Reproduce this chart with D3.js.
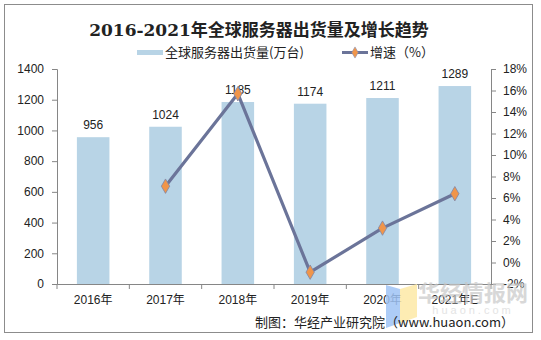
<!DOCTYPE html>
<html><head><meta charset="utf-8">
<script src="https://cdn.jsdelivr.net/npm/d3@7"></script>
<style>
body{margin:0;background:#fff;}
svg{display:block;}
text{font-family:"Liberation Sans",Arial,"Noto Sans CJK SC",sans-serif;}
</style></head>
<body>
<script>
const categories = ["2016年","2017年","2018年","2019年","2020年","2021年E"];
const shipments = [956,1024,1185,1174,1211,1289];
const growth = [null,7.1,15.7,-0.9,3.2,6.4];
const leftTicks = [0,200,400,600,800,1000,1200,1400];
const rightTicks = [-2,0,2,4,6,8,10,12,14,16,18];

const W=541,H=340;
const svg=d3.select("body").append("svg").attr("width",W).attr("height",H);
svg.append("rect").attr("x",4.5).attr("y",4.5).attr("width",528).attr("height",328)
  .attr("fill","#fff").attr("stroke","#8c8c8c").attr("stroke-width",1);

const x0=57,x1=491,yTop=69,yBot=284;
const x=d3.scaleBand().domain(categories).range([x0,x1]).paddingInner(0.55).paddingOuter(0.275);
const xb=d3.scaleBand().domain(categories).range([x0,x1]);
const yL=d3.scaleLinear().domain([0,1400]).range([yBot,yTop]);
const yR=d3.scaleLinear().domain([-2,18]).range([yBot,yTop]);

// title
svg.append("text").attr("x",259).attr("y",36).attr("text-anchor","middle")
  .style("font-family","'DejaVu Serif','Liberation Serif','Noto Sans CJK SC',serif")
  .style("font-weight","bold").style("font-size","17px").attr("fill","#222")
  .text("2016-2021年全球服务器出货量及增长趋势");

// legend
svg.append("rect").attr("x",137).attr("y",50).attr("width",26).attr("height",5).attr("fill","#b8d4e6");
svg.append("text").attr("x",165).attr("y",57).style("font-size","13px").attr("fill","#222")
  .style("font-family","'Noto Sans CJK SC',sans-serif").text("全球服务器出货量(万台)");
svg.append("line").attr("x1",342).attr("x2",368).attr("y1",52.5).attr("y2",52.5).attr("stroke","#6b7499").attr("stroke-width",3);
svg.append("path").attr("d",d3.symbol(d3.symbolDiamond,36)()).attr("transform","translate(355,52.5)")
  .attr("fill","#f0954a").attr("stroke","#8a8fb0").attr("stroke-width",0.6);
svg.append("text").attr("x",370).attr("y",57).style("font-size","13px").attr("fill","#222")
  .style("font-family","'Noto Sans CJK SC',sans-serif").text("增速（%）");

// bars
svg.selectAll("rect.bar").data(shipments).join("rect").attr("class","bar")
  .attr("x",(d,i)=>x(categories[i])).attr("width",x.bandwidth())
  .attr("y",d=>yL(d)).attr("height",d=>yBot-yL(d)).attr("fill","#b8d4e6");
svg.selectAll("text.lab").data(shipments).join("text").attr("class","lab")
  .attr("x",(d,i)=>x(categories[i])+x.bandwidth()/2).attr("y",d=>yL(d)-8)
  .attr("text-anchor","middle").style("font-size","12px").attr("fill","#222").text(d=>d);

// axes
const axL=svg.append("g").attr("transform",`translate(${x0},0)`)
  .call(d3.axisLeft(yL).tickValues(leftTicks).tickSize(5).tickPadding(8).tickFormat(d3.format("d")));
const axR=svg.append("g").attr("transform",`translate(${x1},0)`)
  .call(d3.axisRight(yR).tickValues(rightTicks).tickSize(5).tickPadding(7).tickFormat(d=>d+"%"));
const axB=svg.append("g").attr("transform",`translate(0,${yBot})`)
  .call(d3.axisBottom(xb).tickSize(0).tickPadding(11));
[axL,axR,axB].forEach(g=>{
  g.select(".domain").attr("stroke","#868686");
  g.selectAll(".tick line").attr("stroke","#868686");
  g.selectAll("text").style("font-size","12px").attr("fill","#222")
   .style("font-family","'Liberation Sans','Noto Sans CJK SC',sans-serif");
});
svg.selectAll("line.bt").data(d3.range(categories.length+1)).join("line").attr("class","bt")
  .attr("x1",i=>x0+i*xb.step()).attr("x2",i=>x0+i*xb.step())
  .attr("y1",yBot).attr("y2",yBot+5).attr("stroke","#868686");

// line
const pts=growth.map((g,i)=>({g,c:categories[i]})).filter(d=>d.g!==null);
const line=d3.line().x(d=>xb(d.c)+xb.bandwidth()/2).y(d=>yR(d.g));
svg.append("path").datum(pts).attr("d",line).attr("fill","none")
  .attr("stroke","#6b7499").attr("stroke-width",3.2).attr("stroke-linejoin","round");
svg.selectAll("path.mk").data(pts).join("path").attr("class","mk")
  .attr("d",d3.symbol(d3.symbolDiamond,60)())
  .attr("transform",d=>`translate(${xb(d.c)+xb.bandwidth()/2},${yR(d.g)})`)
  .attr("fill","#f0954a").attr("stroke","#7f86a8").attr("stroke-width",0.8);

// watermark
svg.append("path").attr("d","M386,285 L400,289 L400,323 L386,328 Z").attr("fill","#9fc3f5").attr("opacity",0.85);
svg.append("path").attr("d","M400,289 L417,284 L417,317 L400,323 Z").attr("fill","#fde9a6").attr("opacity",0.85);
svg.append("text").attr("x",473).attr("y",301).attr("text-anchor","middle")
  .style("font-family","'Noto Sans CJK SC',sans-serif").style("font-weight","bold")
  .style("font-size","22px").attr("fill","#c8c8c8").attr("opacity",0.7).text("华经情报网");
svg.append("text").attr("x",473).attr("y",314).attr("text-anchor","middle")
  .style("font-size","11px").style("letter-spacing","3px").attr("fill","#e4e4e4").text("huaon.com");

// source
svg.append("text").attr("x",514).attr("y",327).attr("text-anchor","end")
  .style("font-size","13px").attr("fill","#222")
  .style("font-family","'Noto Sans CJK SC',sans-serif").text("制图：华经产业研究院（www.huaon.com）");
</script>
</body></html>
